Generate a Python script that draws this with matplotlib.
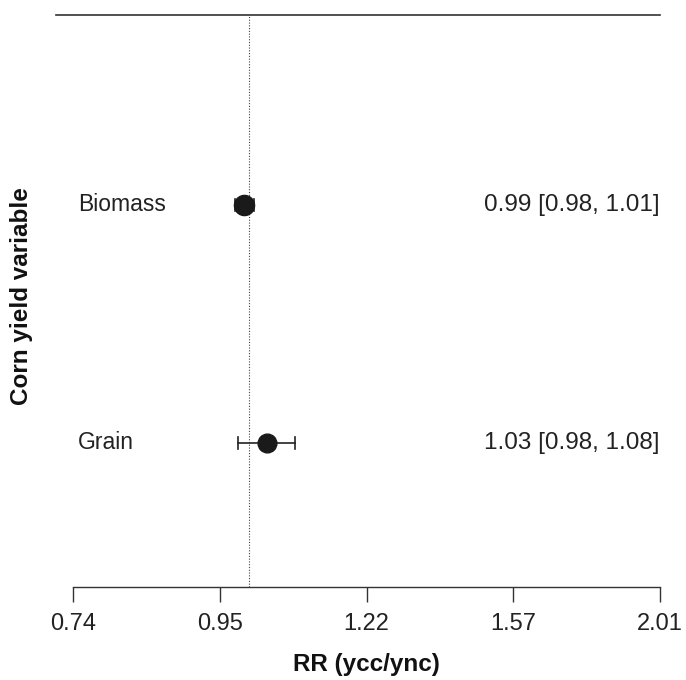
import numpy as np
import matplotlib
matplotlib.use("Agg")
import matplotlib.pyplot as plt

plt.rcParams['font.family'] = ['Liberation Sans', 'DejaVu Sans']

# forest plot data (risk ratios, log scale)
labels = ["Biomass", "Grain"]
est = [0.991, 1.031]
ci_lo = [0.976, 0.981]
ci_hi = [1.008, 1.081]
weights = [14.5, 13.5]          # marker size ~ study weight
rows = [2, 1]

tick_vals = [0.74, 0.95, 1.22, 1.57, 2.01]
tick_log = [-0.3, -0.05, 0.2, 0.45, 0.7]

W, H = 686, 680
fig = plt.figure(figsize=(W / 100, H / 100), dpi=100)
# axes spans the plotting region in pixel terms
ax = fig.add_axes([73 / W, 1 - 587 / H, 587 / W, (587 - 15) / H])
ax.set_xlim(-0.3, 0.7)
ax.set_ylim(0.395, 2.798)

for s in ["top", "right", "left"]:
    ax.spines[s].set_visible(False)
ax.spines["bottom"].set_color("#333333")
ax.spines["bottom"].set_linewidth(1)
ax.set_yticks([])
ax.set_xticks(tick_log)
ax.set_xticklabels([f"{v:.2f}" for v in tick_vals], fontsize=17, color="#222222")
ax.tick_params(axis="x", length=11, width=1, color="#333333", pad=8)

# top line and reference line
x_left = -0.3 - 17 / 587
ax.plot([x_left, 0.7], [2.798, 2.798], color="#333333", lw=1.2, clip_on=False)
ax.plot([0, 0], [0.395, 2.798], color="#444444", lw=0.8, ls=(0, (1, 1.5)))

for lab, e, lo, hi, w, r in zip(labels, est, ci_lo, ci_hi, weights, rows):
    le, llo, lhi = np.log(e), np.log(lo), np.log(hi)
    ax.plot([llo, lhi], [r, r], color="#222222", lw=1.2)
    ax.plot([llo, llo], [r - 0.027, r + 0.027], color="#222222", lw=1.2)
    ax.plot([lhi, lhi], [r - 0.027, r + 0.027], color="#222222", lw=1.2)
    ax.plot(le, r, "o", ms=w, color="#1a1a1a")
    ax.text(x_left + 22 / 587, r, lab, ha="left", va="center", fontsize=16.5,
            color="#222222", clip_on=False)
    ax.text(0.7, r, f"{e:.2f} [{lo:.2f}, {hi:.2f}]", ha="right", va="center",
            fontsize=17.5, color="#222222", clip_on=False)

fig.text(366 / W, 1 - 665 / H, "RR (ycc/ync)", ha="center", va="center",
         fontsize=17.5, fontweight="bold", color="#111111")
fig.text(22 / W, 1 - 296 / H, "Corn yield variable", ha="center", va="center",
         rotation=90, fontsize=17.5, fontweight="bold", color="#111111")

fig.savefig("out.png", dpi=100)
